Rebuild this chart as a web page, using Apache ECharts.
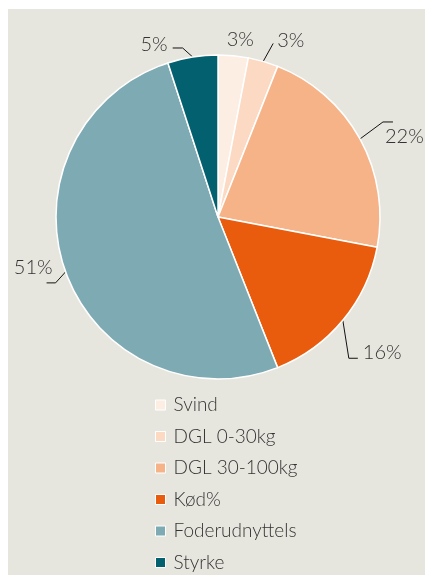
<!DOCTYPE html>
<html>
<head>
<meta charset="utf-8">
<script src="https://cdn.jsdelivr.net/npm/echarts@6/dist/echarts.min.js"></script>
<style>
html,body{margin:0;padding:0;background:#ffffff;width:425px;height:575px;overflow:hidden;}
#bg{position:absolute;left:8px;top:9px;right:0;bottom:0;background:#e7e6de;}
#chart{position:absolute;left:0;top:0;width:425px;height:575px;}
</style>
</head>
<body>
<div id="bg"></div>
<div id="chart"></div>
<script>
const categories = ['Svind', 'DGL 0-30kg', 'DGL 30-100kg', 'Kød%', 'Foderudnyttelse', 'Styrke'];
const values = [3, 3, 22, 16, 51, 5];
const colors = ['#fdeee3', '#fbd9c2', '#f7b388', '#e95c0e', '#7eaab4', '#03606f'];

// label line geometry per slice (style): bend offset from edge, end offset from bend, label offset from end
const lineBend = [[0, 0], [10, -18], [23, -17], [6, 38], [-10, 11], [-10, -9]];
const lineEnd = [[0, 0], [0, 0], [10, 0], [9, 0], [-9, 0], [-10, 0]];
const labelOff = [[7, -16], [4, -3], [-8, 15], [5, -6], [6, -15], [-5, -3]];
const labelAlign = ['center', 'left', 'left', 'left', 'right', 'right'];

const chart = echarts.init(document.getElementById('chart'), null, {renderer: 'canvas'});
const fontFam = 'Lato, "Open Sans", sans-serif';

chart.setOption({
  backgroundColor: 'transparent',
  animation: false,
  color: colors,
  legend: {
    orient: 'vertical',
    left: 150,
    top: 390,
    height: 200,
    itemWidth: 10,
    itemHeight: 10,
    itemGap: 11.5,
    icon: 'rect',
    itemStyle: {borderColor: '#ffffff', borderWidth: 1},
    data: categories,
    textStyle: {
      fontFamily: fontFam,
      fontWeight: 300,
      fontSize: 19,
      color: '#333333',
      lineHeight: 20,
      padding: [0, 0, 0, 3],
      width: 132,
      overflow: 'truncate',
      ellipsis: ''
    }
  },
  series: [{
    type: 'pie',
    center: [218, 217],
    radius: [0, 162],
    startAngle: 90,
    clockwise: true,
    avoidLabelOverlap: false,
    itemStyle: {borderColor: '#ffffff', borderWidth: 1.5},
    label: {
      show: true,
      position: 'outside',
      formatter: '{c}%',
      fontFamily: fontFam,
      fontWeight: 300,
      fontSize: 20,
      color: '#333333'
    },
    labelLine: {
      show: true,
      length: 20,
      length2: 10,
      smooth: false,
      lineStyle: {color: '#111111', width: 1}
    },
    labelLayout: function (p) {
      const i = p.dataIndex;
      const e = p.labelLinePoints ? p.labelLinePoints[0] : [0, 0];
      const b = [e[0] + lineBend[i][0], e[1] + lineBend[i][1]];
      const t = [b[0] + lineEnd[i][0], b[1] + lineEnd[i][1]];
      const anchor = (i === 2) ? e : t;
      const lo = (i === 2) ? [lineBend[i][0] + 2, lineBend[i][1] + labelOff[i][1]] : labelOff[i];
      return {
        x: anchor[0] + lo[0],
        y: anchor[1] + lo[1],
        align: labelAlign[i],
        verticalAlign: 'middle',
        labelLinePoints: i === 0 ? [e, e, e] : [e, b, t]
      };
    },
    data: categories.map((c, i) => ({
      name: c,
      value: values[i],
      labelLine: i === 0 ? {show: false} : undefined
    }))
  }]
});
</script>
</body>
</html>
